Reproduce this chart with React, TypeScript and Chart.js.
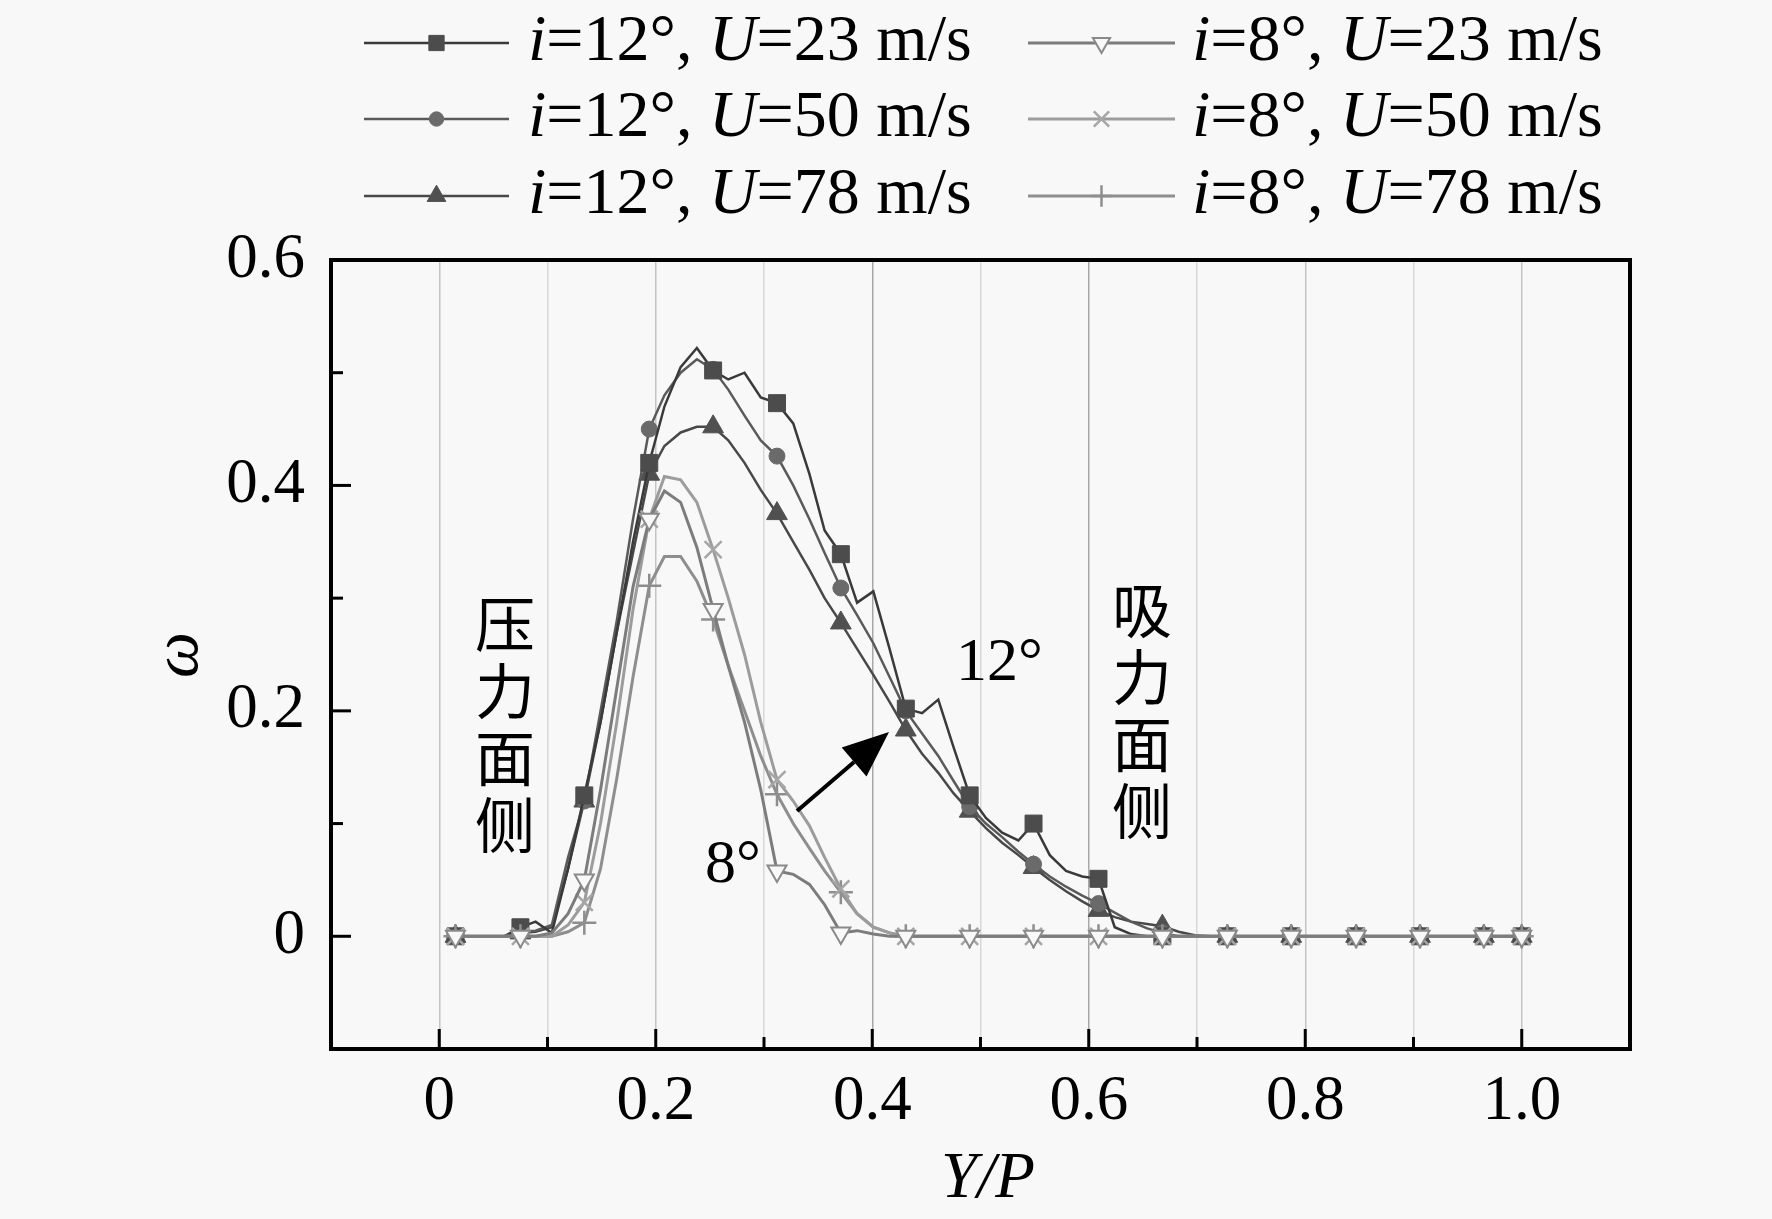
import React, { useEffect, useRef } from 'react';
import { Chart, registerables } from 'chart.js';
import type { ChartConfiguration, Plugin, PointStyle } from 'chart.js';
import { drawPoint } from 'chart.js/helpers';

Chart.register(...registerables);

// Y/P of the measuring points; every 4th point (and the last) carries a marker
const yOverP = [
  0.015, 0.030, 0.045, 0.060, 0.075, 0.089, 0.104, 0.119, 0.134, 0.149,
  0.164, 0.179, 0.194, 0.208, 0.223, 0.238, 0.253, 0.267, 0.282, 0.297,
  0.312, 0.327, 0.342, 0.356, 0.371, 0.386, 0.401, 0.416, 0.431, 0.446,
  0.461, 0.475, 0.490, 0.505, 0.520, 0.535, 0.549, 0.564, 0.579, 0.594,
  0.609, 0.624, 0.639, 0.654, 0.668, 0.683, 0.698, 0.713, 0.728, 0.743,
  0.758, 0.772, 0.787, 0.802, 0.817, 0.832, 0.847, 0.861, 0.876, 0.891,
  0.906, 0.921, 0.936, 0.950, 0.965, 1.000,
];

const w12u23 = [
  0, 0, 0, 0, 0.008, 0.013, 0.003, 0.06, 0.125, 0.19,
  0.27, 0.35, 0.42, 0.47, 0.505, 0.522, 0.502, 0.494, 0.5, 0.478,
  0.473, 0.455, 0.41, 0.36, 0.339, 0.296, 0.306, 0.255, 0.202, 0.198,
  0.21, 0.168, 0.125, 0.105, 0.092, 0.085, 0.1, 0.072, 0.058, 0.053,
  0.051, 0.008, 0.002, 0, 0, 0, 0, 0, 0, 0,
  0, 0, 0, 0, 0, 0, 0, 0, 0, 0,
  0, 0, 0, 0, 0, 0,
];
const w12u50 = [
  0, 0, 0, 0, 0.004, 0.005, 0.01, 0.07, 0.12, 0.2,
  0.28, 0.37, 0.45, 0.48, 0.5, 0.512, 0.503, 0.485, 0.462, 0.44,
  0.426, 0.4, 0.37, 0.34, 0.309, 0.285, 0.26, 0.23, 0.2, 0.18,
  0.16, 0.138, 0.115, 0.1, 0.088, 0.075, 0.064, 0.053, 0.044, 0.036,
  0.029, 0.021, 0.013, 0.007, 0.003, 0, 0, 0, 0, 0,
  0, 0, 0, 0, 0, 0, 0, 0, 0, 0,
  0, 0, 0, 0, 0, 0,
];
const w12u78 = [
  0, 0, 0, 0, 0.003, 0.004, 0.008, 0.06, 0.12, 0.19,
  0.27, 0.34, 0.41, 0.435, 0.447, 0.452, 0.452, 0.44, 0.42, 0.396,
  0.375, 0.35, 0.325, 0.3, 0.278, 0.255, 0.232, 0.208, 0.183, 0.162,
  0.145, 0.127, 0.111, 0.096, 0.083, 0.072, 0.061, 0.05, 0.04, 0.031,
  0.023, 0.017, 0.013, 0.011, 0.009, 0.004, 0.001, 0, 0, 0,
  0, 0, 0, 0, 0, 0, 0, 0, 0, 0,
  0, 0, 0, 0, 0, 0,
];
const w8u23 = [
  0, 0, 0, 0, 0, 0, 0.003, 0.02, 0.05, 0.13,
  0.22, 0.31, 0.37, 0.395, 0.385, 0.345, 0.29, 0.24, 0.19, 0.13,
  0.058, 0.055, 0.046, 0.028, 0.003, 0.005, 0.002, 0, 0, 0,
  0, 0, 0, 0, 0, 0, 0, 0, 0, 0,
  0, 0, 0, 0, 0, 0, 0, 0, 0, 0,
  0, 0, 0, 0, 0, 0, 0, 0, 0, 0,
  0, 0, 0, 0, 0, 0,
];
const w8u50 = [
  0, 0, 0, 0, 0, 0, 0, 0.01, 0.03, 0.1,
  0.19, 0.29, 0.37, 0.408, 0.405, 0.385, 0.343, 0.3, 0.25, 0.19,
  0.139, 0.12, 0.098, 0.07, 0.042, 0.02, 0.008, 0.003, 0, 0,
  0, 0, 0, 0, 0, 0, 0, 0, 0, 0,
  0, 0, 0, 0, 0, 0, 0, 0, 0, 0,
  0, 0, 0, 0, 0, 0, 0, 0, 0, 0,
  0, 0, 0, 0, 0, 0,
];
const w8u78 = [
  0, 0, 0, 0, 0, 0, 0, 0.004, 0.012, 0.06,
  0.14, 0.23, 0.311, 0.337, 0.337, 0.315, 0.281, 0.24, 0.2, 0.16,
  0.126, 0.1, 0.078, 0.058, 0.039, 0.02, 0.008, 0.003, 0, 0,
  0, 0, 0, 0, 0, 0, 0, 0, 0, 0,
  0, 0, 0, 0, 0, 0, 0, 0, 0, 0,
  0, 0, 0, 0, 0, 0, 0, 0, 0, 0,
  0, 0, 0, 0, 0, 0,
];

const incidences = ['12', '12', '12', '8', '8', '8'];
const speeds = ['23', '50', '78', '23', '50', '78'];
const seriesValues = [w12u23, w12u50, w12u78, w8u23, w8u50, w8u78];

const xTicks = [-0.1, 0, 0.1, 0.2, 0.3, 0.4, 0.5, 0.6, 0.7, 0.8, 0.9, 1.0, 1.1];
const xLabelled = [0, 0.2, 0.4, 0.6, 0.8, 1.0];
const xLabels = ['0', '0.2', '0.4', '0.6', '0.8', '1.0'];
const yTicks = [-0.1, 0, 0.1, 0.2, 0.3, 0.4, 0.5, 0.6];
const yLabelled = [0, 0.2, 0.4, 0.6];
const yLabels = ['0', '0.2', '0.4', '0.6'];

const SERIF = '"Liberation Serif", "Times New Roman", serif';
const CJK = '"Noto Sans CJK SC", sans-serif';
const BG = '#f8f8f8';

interface Look {
  line: string;
  width: number;
  style: PointStyle;
  rot: number;
  radius: number;
  fill: string;
  stroke: string;
  border: number;
}

const looks: Look[] = [
  { line: '#3a3a3a', width: 2.5, style: 'rect', rot: 0, radius: 12, fill: '#4c4c4c', stroke: '#4c4c4c', border: 1 },
  { line: '#5a5a5a', width: 2.5, style: 'circle', rot: 0, radius: 8, fill: '#6a6a6a', stroke: '#6a6a6a', border: 1 },
  { line: '#484848', width: 2.5, style: 'triangle', rot: 0, radius: 12, fill: '#505050', stroke: '#505050', border: 1 },
  { line: '#7c7c7c', width: 3, style: 'triangle', rot: 180, radius: 11, fill: BG, stroke: '#8a8a8a', border: 2 },
  { line: '#9c9c9c', width: 3, style: 'crossRot', rot: 0, radius: 12, fill: BG, stroke: '#a6a6a6', border: 2.5 },
  { line: '#8e8e8e', width: 3, style: 'cross', rot: 0, radius: 12, fill: BG, stroke: '#8e8e8e', border: 2.5 },
];

const near = (a: number, b: number) => Math.abs(a - b) < 1e-6;
const isMajor = (v: number) => xLabelled.some((m) => near(m, v));

const richText = (ctx: CanvasRenderingContext2D, parts: [string, boolean][], x: number, y: number, size: number) => {
  let cx = x;
  parts.forEach(([t, italic]) => {
    ctx.font = `${italic ? 'italic ' : ''}${size}px ${SERIF}`;
    ctx.fillText(t, cx, y);
    cx += ctx.measureText(t).width;
  });
};

const frameAndTicks: Plugin<'line'> = {
  id: 'frameAndTicks',
  afterDatasetsDraw(chart) {
    const { ctx, chartArea: a } = chart;
    const xs = chart.scales.x;
    const ys = chart.scales.y;
    ctx.save();
    ctx.strokeStyle = '#000';
    ctx.lineWidth = 3;
    ctx.lineCap = 'butt';
    xTicks.forEach((v) => {
      const px = xs.getPixelForValue(v);
      if (px <= a.left + 3 || px >= a.right - 3) return;
      const len = isMajor(v) ? 20 : 12;
      ctx.beginPath();
      ctx.moveTo(px, a.bottom);
      ctx.lineTo(px, a.bottom - len);
      ctx.stroke();
    });
    yTicks.forEach((v) => {
      const py = ys.getPixelForValue(v);
      if (py <= a.top + 3 || py >= a.bottom - 3) return;
      const len = yLabelled.some((m) => near(m, v)) ? 20 : 12;
      ctx.beginPath();
      ctx.moveTo(a.left, py);
      ctx.lineTo(a.left + len, py);
      ctx.stroke();
    });
    ctx.lineWidth = 4;
    ctx.strokeRect(a.left, a.top, a.right - a.left, a.bottom - a.top);
    ctx.restore();
  },
};

const decorations: Plugin<'line'> = {
  id: 'decorations',
  afterDraw(chart) {
    const { ctx } = chart;
    ctx.save();
    ctx.fillStyle = '#000';
    ctx.textBaseline = 'middle';

    // legend
    const rowY = [43, 119, 196];
    const cols = [
      { from: 364, to: 509, text: 528 },
      { from: 1028, to: 1175, text: 1192 },
    ];
    looks.forEach((lk, i) => {
      const col = cols[i < 3 ? 0 : 1];
      const y = rowY[i % 3];
      ctx.strokeStyle = lk.line;
      ctx.lineWidth = lk.width;
      ctx.beginPath();
      ctx.moveTo(col.from, y);
      ctx.lineTo(col.to, y);
      ctx.stroke();
      ctx.fillStyle = lk.fill;
      ctx.strokeStyle = lk.stroke;
      ctx.lineWidth = lk.border;
      drawPoint(ctx, { pointStyle: lk.style, rotation: lk.rot, radius: lk.radius * 0.9, borderWidth: lk.border }, (col.from + col.to) / 2, y);
      ctx.fillStyle = '#000';
      ctx.textAlign = 'left';
      richText(
        ctx,
        [
          ['i', true],
          [`=${incidences[i]}°, `, false],
          ['U', true],
          [`=${speeds[i]} m/s`, false],
        ],
        col.text,
        y,
        66,
      );
    });

    // axis titles
    ctx.fillStyle = '#000';
    ctx.textAlign = 'center';
    ctx.font = `italic 65px ${SERIF}`;
    ctx.fillText('Y/P', 988, 1180);
    ctx.save();
    ctx.translate(180, 655);
    ctx.rotate(-Math.PI / 2);
    ctx.fillText('ω', 0, 0);
    ctx.restore();

    // side notes
    ctx.font = `60px ${CJK}`;
    ['压', '力', '面', '侧'].forEach((c, k) => ctx.fillText(c, 505, 624 + k * 67));
    ['吸', '力', '面', '侧'].forEach((c, k) => ctx.fillText(c, 1142, 610 + k * 67));

    ctx.textAlign = 'left';
    ctx.font = `62px ${SERIF}`;
    ctx.fillText('12°', 956, 664);
    ctx.fillText('8°', 705, 866);

    // arrow 8° -> 12°
    const x0 = 797, y0 = 811, x1 = 889, y1 = 732;
    const ang = Math.atan2(y1 - y0, x1 - x0);
    const headLen = 46, headHalf = 19;
    const bx = x1 - headLen * Math.cos(ang);
    const by = y1 - headLen * Math.sin(ang);
    ctx.strokeStyle = '#000';
    ctx.lineWidth = 4;
    ctx.beginPath();
    ctx.moveTo(x0, y0);
    ctx.lineTo(bx, by);
    ctx.stroke();
    ctx.beginPath();
    ctx.moveTo(x1, y1);
    ctx.lineTo(bx + headHalf * Math.sin(ang), by - headHalf * Math.cos(ang));
    ctx.lineTo(bx - headHalf * Math.sin(ang), by + headHalf * Math.cos(ang));
    ctx.closePath();
    ctx.fill();

    ctx.restore();
  },
};

const App: React.FC = () => {
  const canvasRef = useRef<HTMLCanvasElement>(null);
  const chartInstance = useRef<Chart<'line'> | null>(null);

  useEffect(() => {
    document.body.style.margin = '0';
    document.body.style.background = BG;
    if (!canvasRef.current) return;
    const ctx = canvasRef.current.getContext('2d');
    if (!ctx) return;

    if (chartInstance.current) chartInstance.current.destroy();

    const last = yOverP.length - 1;
    const markerAt = (i: number) => i % 4 === 0 || i === last;

    const config: ChartConfiguration<'line'> = {
      type: 'line',
      data: {
        datasets: seriesValues.map((vals, s) => {
          const lk = looks[s];
          return {
            label: `i=${incidences[s]}°, U=${speeds[s]} m/s`,
            data: vals.map((v, i) => ({ x: yOverP[i], y: v })),
            // 8° sets sit on top of the 12° ones
            order: s < 3 ? 1 : 0,
            borderColor: lk.line,
            borderWidth: lk.width,
            tension: 0,
            fill: false,
            pointStyle: lk.style,
            pointRotation: lk.rot,
            pointBackgroundColor: lk.fill,
            pointBorderColor: lk.stroke,
            pointBorderWidth: lk.border,
            pointRadius: (c: any) => (markerAt(c.dataIndex) ? lk.radius : 0),
            pointHoverRadius: 0,
          };
        }),
      },
      options: {
        responsive: false,
        animation: false,
        devicePixelRatio: 1,
        events: [],
        layout: { padding: { left: 0, top: 260, right: 142, bottom: 0 } },
        plugins: {
          legend: { display: false },
          tooltip: { enabled: false },
        },
        scales: {
          x: {
            type: 'linear',
            min: -0.1,
            max: 1.1,
            afterBuildTicks: (axis) => {
              axis.ticks = xTicks.map((value) => ({ value }));
            },
            afterFit: (axis) => {
              axis.height = 170;
            },
            border: { display: false },
            grid: {
              drawTicks: false,
              lineWidth: 1.5,
              color: (c: any) => {
                const v = c.tick ? c.tick.value : NaN;
                if (!(v > -0.01 && v < 1.01)) return 'rgba(0,0,0,0)';
                if (near(v, 0.4) || near(v, 0.6)) return '#a8a8a8';
                return isMajor(v) ? '#c4c4c4' : '#d8d8d8';
              },
            },
            ticks: {
              autoSkip: false,
              maxRotation: 0,
              padding: 16,
              color: '#000',
              font: { family: SERIF, size: 63 },
              callback: (v) => {
                const k = xLabelled.findIndex((m) => near(m, Number(v)));
                return k >= 0 ? xLabels[k] : '';
              },
            },
          },
          y: {
            type: 'linear',
            min: -0.1,
            max: 0.6,
            afterBuildTicks: (axis) => {
              axis.ticks = yTicks.map((value) => ({ value }));
            },
            afterFit: (axis) => {
              axis.width = 331;
            },
            border: { display: false },
            grid: { display: false, drawTicks: false },
            ticks: {
              autoSkip: false,
              padding: 26,
              color: '#000',
              font: { family: SERIF, size: 63 },
              callback: (v) => {
                const k = yLabelled.findIndex((m) => near(m, Number(v)));
                return k >= 0 ? yLabels[k] : '';
              },
            },
          },
        },
      },
      plugins: [frameAndTicks, decorations],
    };

    chartInstance.current = new Chart(ctx, config);

    return () => {
      if (chartInstance.current) {
        chartInstance.current.destroy();
        chartInstance.current = null;
      }
    };
  }, []);

  return (
    <div style={{ width: 1772, height: 1219, background: BG, overflow: 'hidden' }}>
      <canvas ref={canvasRef} width={1772} height={1219} style={{ display: 'block', width: 1772, height: 1219 }} />
    </div>
  );
};

export default App;
